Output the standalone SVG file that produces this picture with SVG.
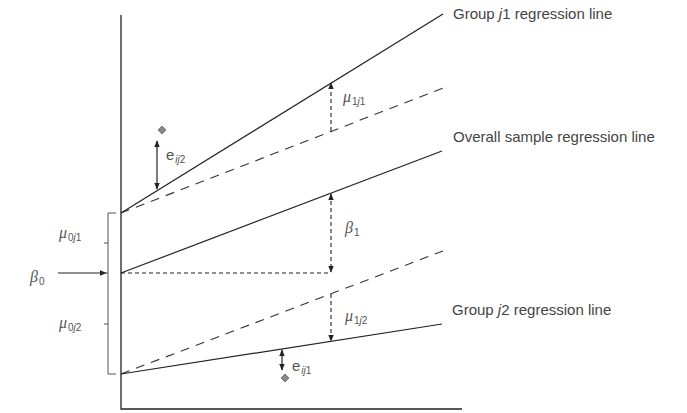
<svg xmlns="http://www.w3.org/2000/svg" width="687" height="413" viewBox="0 0 687 413">
<defs>
<marker id="ah" viewBox="0 0 10 10" refX="9" refY="5" markerWidth="7" markerHeight="7" orient="auto-start-reverse" markerUnits="userSpaceOnUse">
<path d="M0,1 L10,5 L0,9 Z" fill="#222"/>
</marker>
</defs>
<style>
.ax{stroke:#222;stroke-width:1.3;fill:none}
.ln{stroke:#222;stroke-width:1.2;fill:none}
.ld{stroke:#333;stroke-width:1.1;fill:none;stroke-dasharray:9 7}
.sd{stroke:#222;stroke-width:1.1;fill:none;stroke-dasharray:4 3}
.br{stroke:#555;stroke-width:1;fill:none}
.lbl{font-family:"Liberation Sans",Arial,sans-serif;font-size:15px;fill:#444}
.gr{font-family:"Liberation Serif","Times New Roman",serif;font-size:16px;fill:#555;font-style:italic}
.sub{font-family:"Liberation Sans",Arial,sans-serif;font-size:10px;fill:#555;font-style:normal}
.el{font-family:"Liberation Sans",Arial,sans-serif;font-size:15px;fill:#555}
.dm{fill:#888;stroke:#666;stroke-width:0.8}
</style>
<g id="axes">
<path class="ax" d="M121,15 V409 H462"/>
</g>
<g id="connectors">
<path id="line-j1" class="ln" d="M121,213 L443,14"/>
<path id="dash-j1" class="ld" d="M121,213 L443,88"/>
<path id="line-overall" class="ln" d="M121,273 L442,151"/>
<path id="dash-j2" class="ld" d="M121,374 L443,251"/>
<path id="line-j2" class="ln" d="M121,374 L442,324"/>
<path id="hdash" class="sd" d="M121,273 H331"/>
<path id="beta1-arrow" class="sd" d="M331,194 V272" marker-start="url(#ah)" marker-end="url(#ah)"/>
<path id="mu1j1-arrow" class="sd" d="M331,131 V83" marker-end="url(#ah)"/>
<path id="mu1j2-arrow" class="sd" d="M331,294 V341" marker-end="url(#ah)"/>
<path id="eij2-arrow" class="ln" d="M157,141 V189" marker-start="url(#ah)" marker-end="url(#ah)"/>
<path id="eij1-arrow" class="ln" d="M282,350 V370" marker-start="url(#ah)" marker-end="url(#ah)"/>
<path id="beta0-arrow" class="ln" d="M58,273 H106" marker-end="url(#ah)"/>
<path id="brace" class="br" d="M116,213 H108 V374 H116 M108,243 H104 M108,273 H104 M108,324 H104"/>
</g>
<g id="points">
<path class="dm" d="M162,126 L166,130 L162,134 L158,130 Z"/>
<path class="dm" d="M285,374 L289,378 L285,382 L281,378 Z"/>
</g>
<g id="labels">
<text class="lbl" x="453" y="19">Group <tspan font-style="italic">j</tspan>1 regression line</text>
<text class="lbl" x="453" y="142">Overall sample regression line</text>
<text class="lbl" x="452" y="315">Group <tspan font-style="italic">j</tspan>2 regression line</text>
<text class="gr" x="343" y="102">μ<tspan class="sub" dx="1" dy="3">1<tspan font-style="italic">j</tspan>1</tspan></text>
<text class="gr" x="345" y="233">β<tspan class="sub" dx="1" dy="3">1</tspan></text>
<text class="gr" x="345" y="321">μ<tspan class="sub" dx="1" dy="3">1<tspan font-style="italic">j</tspan>2</tspan></text>
<text class="gr" x="59" y="238">μ<tspan class="sub" dx="1" dy="3">0<tspan font-style="italic">j</tspan>1</tspan></text>
<text class="gr" x="30" y="282">β<tspan class="sub" dx="1" dy="3">0</tspan></text>
<text class="gr" x="59" y="328">μ<tspan class="sub" dx="1" dy="3">0<tspan font-style="italic">j</tspan>2</tspan></text>
<text class="el" x="166" y="160">e<tspan class="sub" dx="1" dy="3"><tspan font-style="italic">ij</tspan>2</tspan></text>
<text class="el" x="292" y="371">e<tspan class="sub" dx="1" dy="3"><tspan font-style="italic">ij</tspan>1</tspan></text>
</g>
</svg>
